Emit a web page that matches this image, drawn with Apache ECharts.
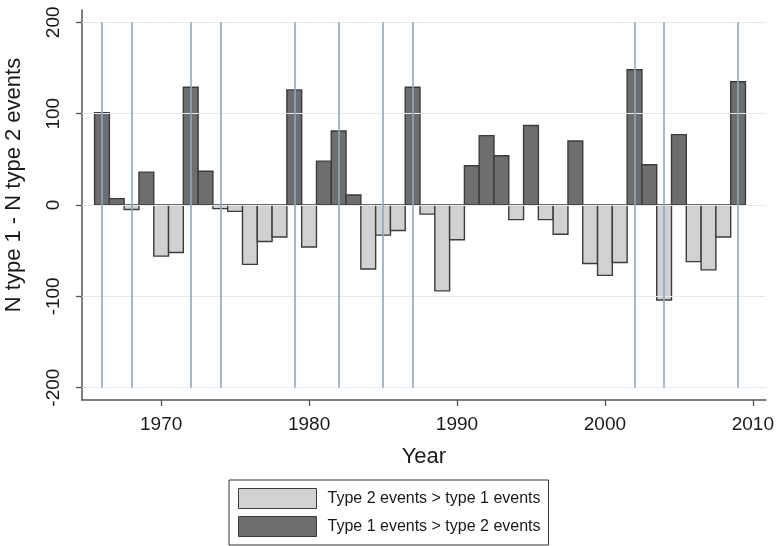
<!DOCTYPE html>
<html>
<head>
<meta charset="utf-8">
<script src="https://cdn.jsdelivr.net/npm/echarts@6/dist/echarts.min.js"></script>
<style>
  html, body { margin: 0; padding: 0; background: #fff; }
  #chart { width: 777px; height: 546px; }
</style>
</head>
<body>
<div id="chart"></div>
<script>
// Yearly difference: number of type 1 events minus number of type 2 events
const years = [
  1966, 1967, 1968, 1969, 1970, 1971, 1972, 1973, 1974, 1975, 1976,
  1977, 1978, 1979, 1980, 1981, 1982, 1983, 1984, 1985, 1986, 1987,
  1988, 1989, 1990, 1991, 1992, 1993, 1994, 1995, 1996, 1997, 1998,
  1999, 2000, 2001, 2002, 2003, 2004, 2005, 2006, 2007, 2008, 2009
];
const diffs = [
  101, 7, -5, 36, -56, -52, 129, 37, -4, -7, -65,
  -40, -35, 126, -46, 48, 81, 11, -70, -33, -28, 129,
  -10, -94, -38, 43, 76, 54, -16, 87, -16, -32, 70,
  -64, -77, -63, 148, 44, -104, 77, -62, -71, -35, 135
];
// Years highlighted with reference lines
const markedYears = [1966, 1968, 1972, 1974, 1979, 1982, 1985, 1987, 2002, 2004, 2009];
const yTicks = [-200, -100, 0, 100, 200];
const xTicks = [1970, 1980, 1990, 2000, 2010];
const legendNames = ['Type 2 events > type 1 events', 'Type 1 events > type 2 events'];
const yTitle = 'N type 1 - N type 2 events';

const lightFill = '#d1d1d1';
const darkFill = '#6e6e6e';
const barEdge = '#3c3c3c';
const textColor = '#1a1a1a';
const font = 'Liberation Sans, Arial, sans-serif';

const negData = [], posData = [];
years.forEach((y, i) => {
  if (diffs[i] < 0) negData.push([y, diffs[i]]);
  else posData.push([y, diffs[i]]);
});

function barRenderer(fill) {
  return function (params, api) {
    const x = api.value(0), v = api.value(1);
    const a = api.coord([x - 0.5, 0]);
    const b = api.coord([x + 0.5, v]);
    return {
      type: 'rect',
      shape: { x: a[0], y: Math.min(a[1], b[1]), width: b[0] - a[0], height: Math.abs(b[1] - a[1]) },
      style: { fill: fill, stroke: barEdge, lineWidth: 1.4 }
    };
  };
}

const chart = echarts.init(document.getElementById('chart'), null, { renderer: 'canvas' });
chart.setOption({
  animation: false,
  backgroundColor: '#ffffff',
  textStyle: { fontFamily: font },
  grid: { left: 82, right: 10, top: 10, bottom: 146, containLabel: false },
  graphic: [{
    type: 'text',
    x: 13.5,
    y: 185,
    rotation: Math.PI / 2,
    style: {
      text: yTitle,
      fill: textColor,
      font: '22px ' + font,
      align: 'center',
      verticalAlign: 'middle'
    }
  }],
  xAxis: {
    type: 'value',
    min: 1964.65,
    max: 2010.88,
    name: 'Year',
    nameLocation: 'middle',
    nameGap: 46,
    nameTextStyle: { fontSize: 22, color: textColor, fontFamily: font },
    axisLine: { show: true, onZero: false, lineStyle: { color: '#555', width: 1.5 } },
    axisTick: { show: true, customValues: xTicks, length: 6, lineStyle: { color: '#555', width: 1.3 } },
    axisLabel: {
      customValues: xTicks, fontSize: 19, color: textColor, margin: 15, fontFamily: font,
      formatter: v => String(v)
    },
    splitLine: { show: false }
  },
  yAxis: {
    type: 'value',
    min: -213.5,
    max: 213.5,
    axisLine: { show: true, onZero: false, lineStyle: { color: '#555', width: 1.5 } },
    axisTick: { show: true, customValues: yTicks, length: 6, lineStyle: { color: '#555', width: 1.3 } },
    axisLabel: { customValues: yTicks, rotate: 90, fontSize: 19, color: textColor, margin: 19, fontFamily: font },
    splitLine: { show: false }
  },
  legend: {
    orient: 'vertical',
    left: 229,
    top: 480,
    padding: [8, 8, 8, 9],
    itemGap: 7,
    itemWidth: 78,
    itemHeight: 20,
    borderColor: '#333',
    borderWidth: 1,
    selectedMode: false,
    textStyle: { fontSize: 16, color: textColor, fontFamily: font, padding: [0, 0, 0, 6] },
    data: [
      { name: legendNames[0], icon: 'rect', itemStyle: { color: lightFill, borderColor: barEdge, borderWidth: 1 } },
      { name: legendNames[1], icon: 'rect', itemStyle: { color: darkFill, borderColor: barEdge, borderWidth: 1 } }
    ]
  },
  series: [
    {
      name: 'grid',
      type: 'line',
      data: [],
      z: 1,
      silent: true,
      markLine: {
        silent: true,
        symbol: 'none',
        label: { show: false },
        lineStyle: { color: '#e2ecef', width: 1.2, type: 'solid' },
        data: yTicks.map(v => ({ yAxis: v }))
      }
    },
    {
      name: legendNames[0],
      type: 'custom',
      z: 3,
      itemStyle: { color: lightFill },
      renderItem: barRenderer(lightFill),
      encode: { x: 0, y: 1 },
      data: negData
    },
    {
      name: legendNames[1],
      type: 'custom',
      z: 3,
      itemStyle: { color: darkFill },
      renderItem: barRenderer(darkFill),
      encode: { x: 0, y: 1 },
      data: posData
    },
    {
      name: 'marked',
      type: 'line',
      data: [],
      z: 5,
      silent: true,
      markLine: {
        silent: true,
        symbol: 'none',
        label: { show: false },
        lineStyle: { color: '#8ea8c6', width: 1.6, type: 'solid' },
        data: markedYears.map(y => [{ coord: [y, -200] }, { coord: [y, 200] }])
      }
    }
  ]
});
</script>
</body>
</html>
